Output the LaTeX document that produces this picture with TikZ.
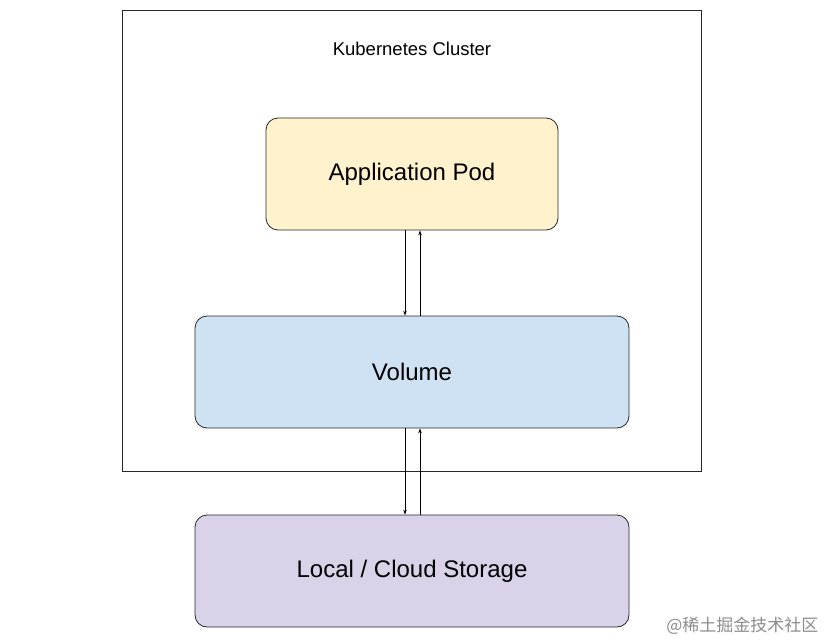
\documentclass[tikz,border=0pt]{standalone}
\usepackage{fontspec}
\setmainfont{Liberation Sans}
\newfontfamily\cjk{Noto Sans CJK SC}
\usetikzlibrary{arrows.meta}
\begin{document}
\begin{tikzpicture}[x=1pt,y=-1pt,
  box/.style={draw=black!85,line width=0.8pt,rounded corners=12pt,font=\fontsize{24}{28}\selectfont},
  arr/.style={-{Stealth[length=5pt,width=3.5pt]},line width=0.6pt}]
\useasboundingbox (0,0) rectangle (825,642);
\node[draw=black!85,line width=0.7pt,minimum width=579pt,minimum height=461pt,anchor=north west] (cl) at (122,10) {};
\node[font=\fontsize{18.5}{22}\selectfont] (cllabel) at (412,49) {Kubernetes Cluster};
\node[box,fill={rgb,255:red,255;green,242;blue,204},minimum width=292pt,minimum height=112pt] (pod) at (412,174) {Application Pod};
\node[box,fill={rgb,255:red,207;green,226;blue,243},minimum width=434pt,minimum height=112pt] (vol) at (412,372) {Volume};
\node[box,fill={rgb,255:red,217;green,210;blue,233},minimum width=434pt,minimum height=112pt] (sto) at (412,571) {Local / Cloud Storage};
\draw[arr] ([xshift=-7pt]pod.south) -- ([xshift=-7pt]vol.north);
\draw[arr] ([xshift=8pt]vol.north) -- ([xshift=8pt]pod.south);
\draw[arr] ([xshift=-7pt]vol.south) -- ([xshift=-7pt]sto.north);
\draw[arr] ([xshift=8pt]sto.north) -- ([xshift=8pt]vol.south);
\node[font=\cjk\fontsize{17}{20}\selectfont,text=black!45,anchor=east] (wm) at (822,626) {@稀土掘金技术社区};
\end{tikzpicture}
\end{document}
